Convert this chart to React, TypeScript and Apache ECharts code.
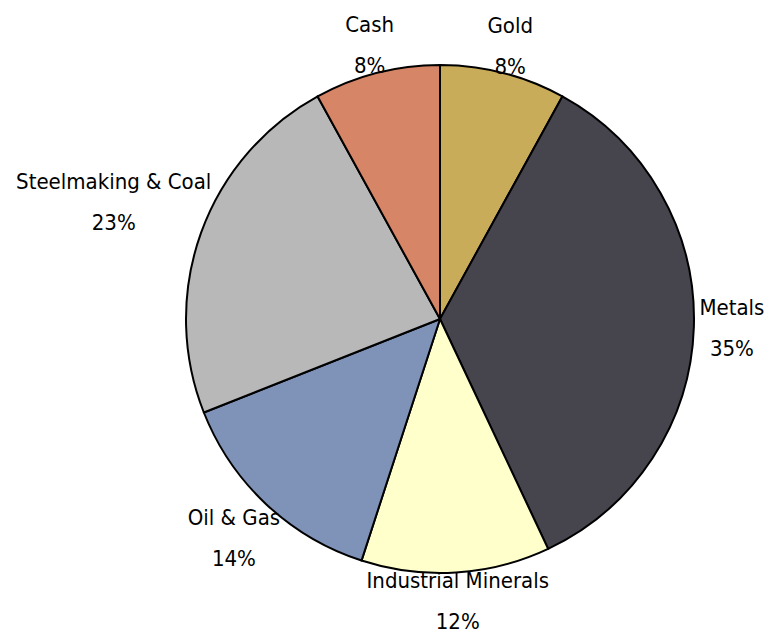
import React, { useEffect, useRef } from "react";
import * as echarts from "echarts";

const categories = ["Gold", "Metals", "Industrial Minerals", "Oil & Gas", "Steelmaking & Coal", "Cash"];
const values = [8, 35, 12, 14, 23, 8];
const colors = ["#C8AC5A", "#46454D", "#FFFFCC", "#7F93B8", "#B8B8B8", "#D68566"];

const CX = 440;
const CY = 319;
const R = 254;
const GAP = 10;
const FONT = "'DejaVu Sans Condensed', 'DejaVu Sans', sans-serif";

export default function App() {
  const ref = useRef<HTMLDivElement>(null);
  useEffect(() => {
    if (!ref.current) return;
    const chart = echarts.init(ref.current, null, { renderer: "svg" });
    const total = values.reduce((a, b) => a + b, 0);
    const mids: number[] = [];
    let acc = 0;
    for (const v of values) {
      mids.push(((acc + v / 2) / total) * Math.PI * 2);
      acc += v;
    }
    chart.setOption({
      animation: false,
      backgroundColor: "#ffffff",
      series: [
        {
          type: "pie",
          center: [CX, CY],
          radius: R,
          startAngle: 90,
          clockwise: true,
          avoidLabelOverlap: false,
          data: categories.map((n, i) => ({ name: n, value: values[i], itemStyle: { color: colors[i] } })),
          itemStyle: { borderColor: "#000000", borderWidth: 2 },
          label: {
            show: true,
            position: "outside",
            formatter: "{b}\n{c}%",
            fontFamily: FONT,
            fontSize: 22,
            lineHeight: 41,
            color: "#000000",
            align: "center",
          },
          labelLine: { show: false },
          emphasis: { disabled: true },
          labelLayout: (p: any) => {
            const a = mids[p.dataIndex];
            const ux = Math.sin(a);
            const uy = -Math.cos(a);
            const hw = (p.labelRect.width / 2) * 0.85;
            const hh = p.labelRect.height * 0.17;
            const d = R + GAP + Math.abs(ux) * hw + Math.abs(uy) * hh;
            return { x: CX + ux * d, y: CY + uy * d, align: "center", verticalAlign: "middle" };
          },
        },
      ],
    });
    return () => chart.dispose();
  }, []);
  return (
    <>
      <style>{"#root svg text { font-stretch: condensed !important; }"}</style>
      <div
        ref={ref}
        style={{ position: "fixed", left: 0, top: 0, width: 772, height: 632 }}
      />
    </>
  );
}
